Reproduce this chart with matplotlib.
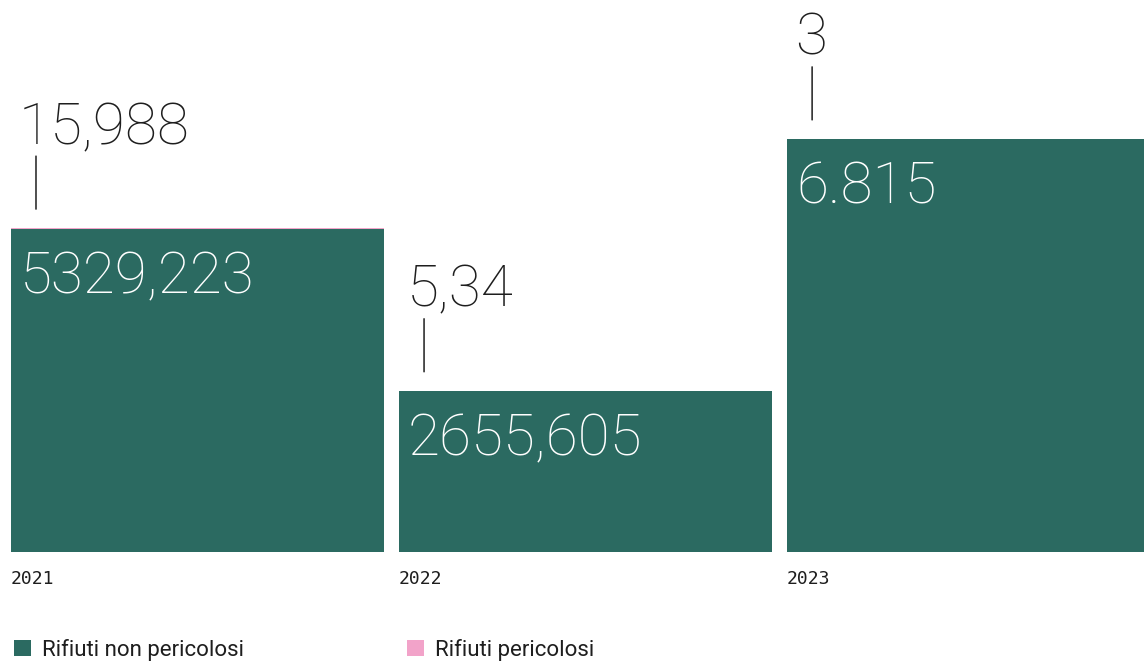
import matplotlib
matplotlib.use("Agg")
import matplotlib.pyplot as plt
from matplotlib.patches import Patch
from matplotlib.transforms import ScaledTranslation

years = ["2021", "2022", "2023"]
non_pericolosi = [5329.223, 2655.605, 6815]
pericolosi = [15.988, 5.34, 3]
label_non = ["5329,223", "2655,605", "6.815"]
label_per = ["15,988", "5,34", "3"]

green = "#2b6a61"
pink = "#f2a3c9"
dark = "#1e1e1e"

plt.rcParams['font.family'] = ['Roboto', 'DejaVu Sans']

fig = plt.figure(figsize=(11.44, 6.63), dpi=100)
# bars sit on y=552px from top, axes reaches to the top edge
ax = fig.add_axes([0, 111 / 663, 1, 552 / 663])
ax.set_xlim(-0.509, 2.439)
ax.set_ylim(0, 9110)
ax.axis("off")

x = list(range(len(years)))
w = 373 / 388
ax.bar(x, non_pericolosi, width=w, color=green, linewidth=0)
ax.bar(x, pericolosi, width=w, bottom=non_pericolosi, color=pink, linewidth=0)

px = 72 / 100  # points per pixel


def shifted(dx, dy):
    return ax.transData + ScaledTranslation(dx * px / 72, dy * px / 72, fig.dpi_scale_trans)


for i in x:
    left = i - w / 2
    top = non_pericolosi[i] + pericolosi[i]
    # value inside the bar
    ax.text(left, non_pericolosi[i], label_non[i], transform=shifted(9, -64),
            color="white", fontsize=42, fontweight="light", ha="left", va="baseline")
    # value above the bar
    ax.text(left, top, label_per[i], transform=shifted(8, 84),
            color=dark, fontsize=42, fontweight="light", ha="left", va="baseline")
    ax.annotate("", xy=(left, top), xycoords=shifted(25, 19),
                xytext=(left, top), textcoords=shifted(25, 72),
                arrowprops=dict(arrowstyle="-", color=dark, lw=1.1,
                                shrinkA=0, shrinkB=0))
    # year label
    ax.text(left, 0, years[i], transform=shifted(0, -32),
            color=dark, fontsize=13, family=["DejaVu Sans Mono"],
            ha="left", va="baseline")

handles = [Patch(facecolor=green, label="Rifiuti non pericolosi"),
           Patch(facecolor=pink, label="Rifiuti pericolosi")]
fig.legend(handles=handles, loc="lower left", bbox_to_anchor=(10 / 1144 - 0.008, -11 / 663),
           ncol=2, frameon=False, fontsize=16, handlelength=0.77, handleheight=0.77,
           handletextpad=0.5, columnspacing=7.3, borderpad=0.1, labelcolor=dark)

fig.savefig("out.png", dpi=100)
